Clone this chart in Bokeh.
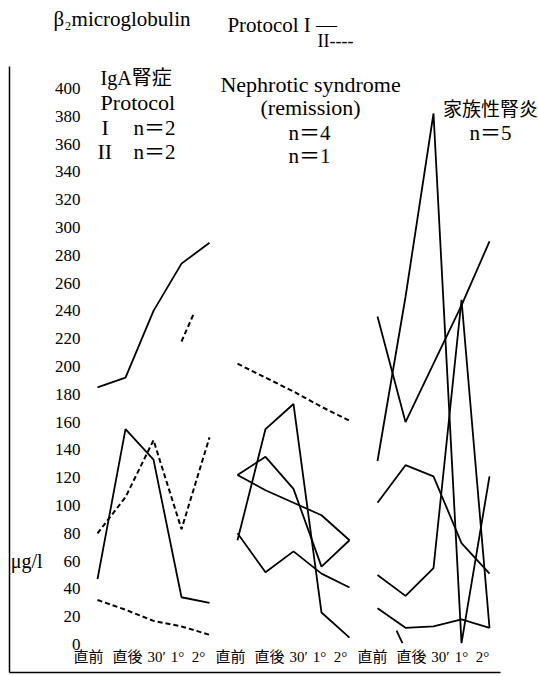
from bokeh.plotting import figure
from bokeh.models import FixedTicker, Range1d, Label
from bokeh.embed import file_html
from bokeh.resources import INLINE

FONT = "Liberation Serif, Noto Sans CJK JP"

# ---------------- data ----------------
time_points = ["直前", "直後", "30′", "1°", "2°"]

# x index of the 5 time points in each group
iga_x = [0, 1, 2, 3, 4]
neph_x = [5, 6, 7, 8, 9]
fam_x = [10, 11, 12, 13, 14]

# IgA腎症 : Protocol I (solid), Protocol II (dashed)
iga_p1_a = [185, 192, 240, 274, 289]
iga_p1_b = [47, 155, 133, 34, 30]
iga_p2_a = [80, 106, 147, 83, 149]
iga_p2_b = [32, 25, 17, 13, 7]
iga_p2_frag_x = [3, 3.46]
iga_p2_frag = [218, 239]

# Nephrotic syndrome (remission)
neph_p1_a = [75, 155, 173, 23, 5]
neph_p1_b = [122, 135, 112, 56, 75]
neph_p1_c = [122, 111, 102, 93, 75]
neph_p1_d = [80, 52, 67, 51, 41]
neph_p2_a = [202, 192, 182, 171, 161]

# 家族性腎炎
fam_p1_a = [132, 250, 382, 1, 121]
fam_p1_b = [236, 160, 202, 244, 290]
fam_p1_c = [102, 129, 121, 73, 51]
fam_p1_d = [50, 35, 55, 248, 12]
fam_p1_e = [26, 12, 13, 18, 12]
fam_p1_frag_x = [10.68, 10.89]
fam_p1_frag = [10, 1]

y_ticks = list(range(0, 401, 20))
x_tick_pos = [-0.32, 1.07, 2.11, 2.86, 3.61,
              4.75, 6.14, 7.18, 7.93, 8.68,
              9.82, 11.21, 12.25, 13.0, 13.75]
x_tick_labels = time_points * 3

# ---------------- figure ----------------
X0, X1, XB = -3.143, 15.75, 14.39
Y0, Y1, YB = -20.14, 463.3, 415.8

p = figure(width=538, height=676, output_backend="svg", toolbar_location=None,
           x_range=Range1d(X0, X1), y_range=Range1d(Y0, Y1),
           min_border_left=9, min_border_right=0, min_border_top=0,
           min_border_bottom=4, outline_line_color=None,
           background_fill_color="white", border_fill_color="white")
p.grid.visible = False

yax = p.yaxis[0]
yax.ticker = FixedTicker(ticks=y_ticks)
yax.bounds = (Y0, YB)
yax.major_tick_line_color = None
yax.minor_tick_line_color = None
yax.major_tick_in = 0
yax.major_tick_out = 0
yax.major_label_standoff = -71
yax.major_label_text_font = FONT
yax.major_label_text_font_size = "17px"
yax.major_label_text_color = "black"
yax.axis_line_color = "black"
yax.axis_line_width = 1.5

xax = p.xaxis[0]
xax.ticker = FixedTicker(ticks=x_tick_pos)
xax.bounds = (X0, XB)
xax.major_label_overrides = {t: l for t, l in zip(x_tick_pos, x_tick_labels)}
xax.major_tick_line_color = None
xax.minor_tick_line_color = None
xax.major_tick_in = 0
xax.major_tick_out = 0
xax.major_label_standoff = -24
xax.major_label_text_font = FONT
xax.major_label_text_font_size = "15px"
xax.major_label_text_color = "black"
xax.axis_line_color = "black"
xax.axis_line_width = 1.5

SOLID = dict(line_color="black", line_width=1.8)
DASH = dict(line_color="black", line_width=2, line_dash="5 3")

for ys in [iga_p1_a, iga_p1_b]:
    p.line(iga_x, ys, **SOLID)
for ys in [iga_p2_a, iga_p2_b]:
    p.line(iga_x, ys, **DASH)
p.line(iga_p2_frag_x, iga_p2_frag, **DASH)

for ys in [neph_p1_a, neph_p1_b, neph_p1_c, neph_p1_d]:
    p.line(neph_x, ys, **SOLID)
p.line(neph_x, neph_p2_a, **DASH)

for ys in [fam_p1_a, fam_p1_b, fam_p1_c, fam_p1_d, fam_p1_e]:
    p.line(fam_x, ys, **SOLID)
p.line(fam_p1_frag_x, fam_p1_frag, **SOLID)

# ---------------- texts ----------------
texts = [
    # text, x, y, align, baseline, size
    ("β₂microglobulin", -1.57, 449.7, "left", "alphabetic", "21px"),
    ("Protocol  I —", 4.64, 446.0, "left", "alphabetic", "21px"),
    ("II----", 7.86, 434.5, "left", "alphabetic", "18px"),
    ("μg/l", -3.1, 60, "left", "middle", "20px"),
    ("IgA腎症", 0.11, 407.9, "left", "alphabetic", "20px"),
    ("Protocol", 0.11, 389.9, "left", "alphabetic", "22px"),
    ("I", 0.14, 371.9, "left", "alphabetic", "22px"),
    ("n＝2", 1.29, 371.9, "left", "alphabetic", "21px"),
    ("II", 0.0, 354.6, "left", "alphabetic", "22px"),
    ("n＝2", 1.29, 354.6, "left", "alphabetic", "21px"),
    ("Nephrotic syndrome", 7.61, 402.8, "center", "alphabetic", "22px"),
    ("(remission)", 7.61, 386.4, "center", "alphabetic", "22px"),
    ("n＝4", 7.57, 368.3, "center", "alphabetic", "21px"),
    ("n＝1", 7.57, 351.1, "center", "alphabetic", "21px"),
    ("家族性腎炎", 14.04, 384.9, "center", "alphabetic", "19px"),
    ("n＝5", 14.04, 368.3, "center", "alphabetic", "21px"),
]
for t, x, y, a, b, s in texts:
    p.add_layout(Label(x=x, y=y, text=t, text_align=a, text_baseline=b,
                       text_font=FONT, text_font_size=s, text_color="black"))

open("out.html", "w").write(file_html(p, INLINE))
